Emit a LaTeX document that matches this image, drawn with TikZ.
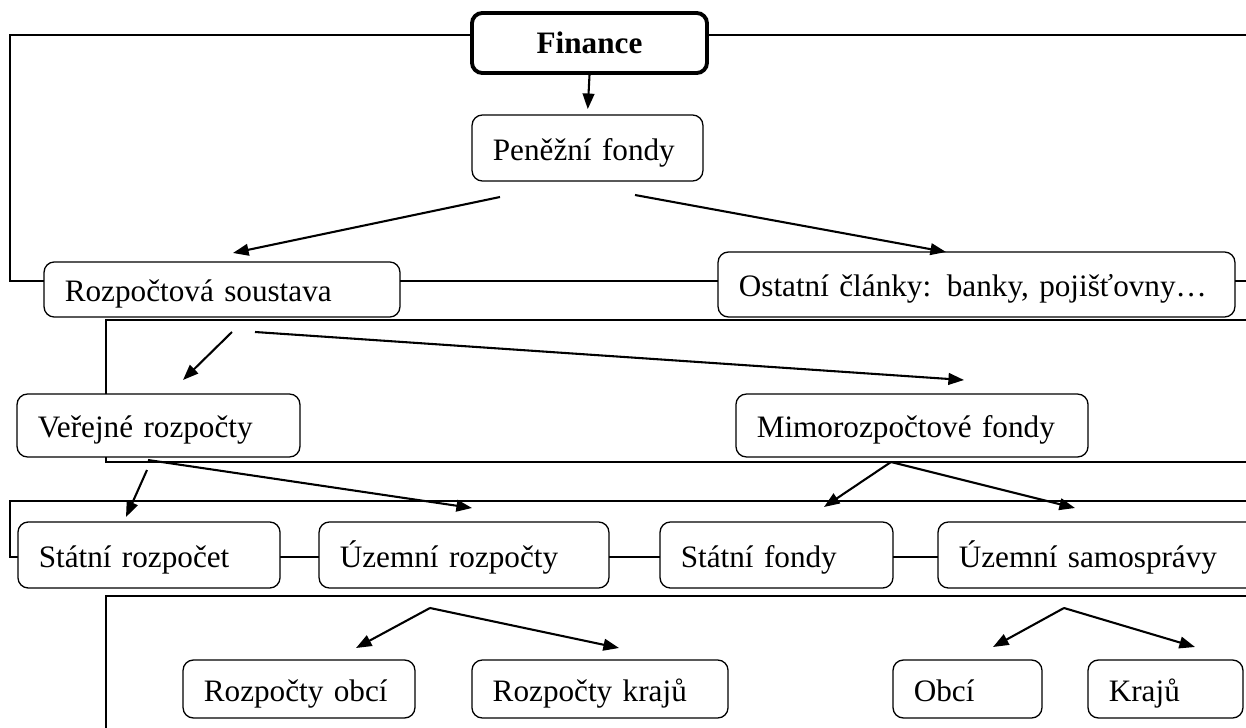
\documentclass[tikz,border=0pt]{standalone}
\usepackage{fontspec}
\setmainfont{Liberation Serif}
\usetikzlibrary{arrows.meta}

\begin{document}
\begin{tikzpicture}[x=0.3846pt,y=-0.3846pt,
  box/.style={draw,fill=white,rounded corners=4pt,line width=0.5pt,inner xsep=8pt,inner ysep=0pt,
    text height=11.5pt,text depth=2pt,align=left,font=\fontsize{12}{14}\selectfont},
  frame/.style={line width=0.8pt},
  arr/.style={-{Triangle[length=6pt,width=4.5pt]},line width=0.8pt}]
\useasboundingbox (0,0) rectangle (1246,728);
\clip (0,0) rectangle (1246,728);

% open frames behind the levels
\draw[frame] (1246,35) -- (10,35) -- (10,281) -- (1246,281);
\draw[frame] (1246,320) -- (106,320) -- (106,462) -- (1246,462);
\draw[frame] (1246,501) -- (10,501) -- (10,557) -- (1246,557);
\draw[frame] (1246,596) -- (106,596) -- (106,740);

% levels
\node[box,line width=1.5pt,align=center,text width=74.4pt,minimum height=23.1pt,text height=10pt,font=\fontsize{12}{14}\selectfont\bfseries] (fin) at (589.5,43) {Finance};
\node[box,text width=72.8pt,minimum height=25.4pt] (pen) at (587.5,148) {Peněžní fondy};

\node[box,text width=120.9pt,minimum height=21.2pt] (rozp) at (222,289.5) {Rozpočtová soustava};
\node[box,text width=182.8pt,minimum height=25pt] (ost) at (976.5,284.5) {Ostatní články: banky, pojišťovny…};

\node[box,text width=92.8pt,minimum height=24.2pt] (ver) at (158.5,425.5) {Veřejné rozpočty};
\node[box,text width=119.4pt,minimum height=24.2pt] (mim) at (912,425.5) {Mimorozpočtové fondy};

\node[box,text width=84.8pt,minimum height=25.4pt] (sr) at (149,555) {Státní rozpočet};
\node[box,text width=95.5pt,minimum height=25.4pt] (ur) at (464,555) {Územní rozpočty};
\node[box,text width=73.6pt,minimum height=25.4pt] (sf) at (776.5,555) {Státní fondy};
\node[box,text width=108.6pt,minimum height=25.4pt] (us) at (1100,555) {Územní samosprávy};

\node[box,text width=73.2pt,minimum height=22.3pt] (ro) at (299,689) {Rozpočty obcí};
\node[box,text width=82.5pt,minimum height=22.3pt] (rk) at (600,689) {Rozpočty krajů};
\node[box,text width=41.3pt,minimum height=22.3pt] (ob) at (967.5,689) {Obcí};
\node[box,text width=43.6pt,minimum height=22.3pt] (kr) at (1165.5,689) {Krajů};

% arrow ends
\coordinate (pen-l) at (500,197);
\coordinate (pen-r) at (635,195);
\coordinate (rozp-in) at (233,253);
\coordinate (ost-in) at (946,252);
\coordinate (rozp-l) at (232,332);
\coordinate (rozp-r) at (255,332);
\coordinate (ver-in) at (183,380);
\coordinate (mim-in) at (964,380);
\coordinate (ver-l) at (147,470);
\coordinate (ver-r) at (148,460);
\coordinate (sr-in) at (126,517);
\coordinate (ur-in) at (472,508);
\coordinate (mim-out) at (891,462);
\coordinate (sf-in) at (824,507);
\coordinate (us-in) at (1075,508);
\coordinate (ur-out) at (430,608);
\coordinate (ro-in) at (356,648);
\coordinate (rk-in) at (619,648);
\coordinate (us-out) at (1064,608);
\coordinate (ob-in) at (993,647);
\coordinate (kr-in) at (1195,647);

\draw[arr,shorten >=2pt] (fin.south) -- (pen.north);
\draw[arr] (pen-l) -- (rozp-in);
\draw[arr] (pen-r) -- (ost-in);
\draw[arr] (rozp-l) -- (ver-in);
\draw[arr] (rozp-r) -- (mim-in);
\draw[arr] (ver-l) -- (sr-in);
\draw[arr] (ver-r) -- (ur-in);
\draw[arr] (mim-out) -- (sf-in);
\draw[arr] (mim-out) -- (us-in);
\draw[arr] (ur-out) -- (ro-in);
\draw[arr] (ur-out) -- (rk-in);
\draw[arr] (us-out) -- (ob-in);
\draw[arr] (us-out) -- (kr-in);
\end{tikzpicture}
\end{document}
